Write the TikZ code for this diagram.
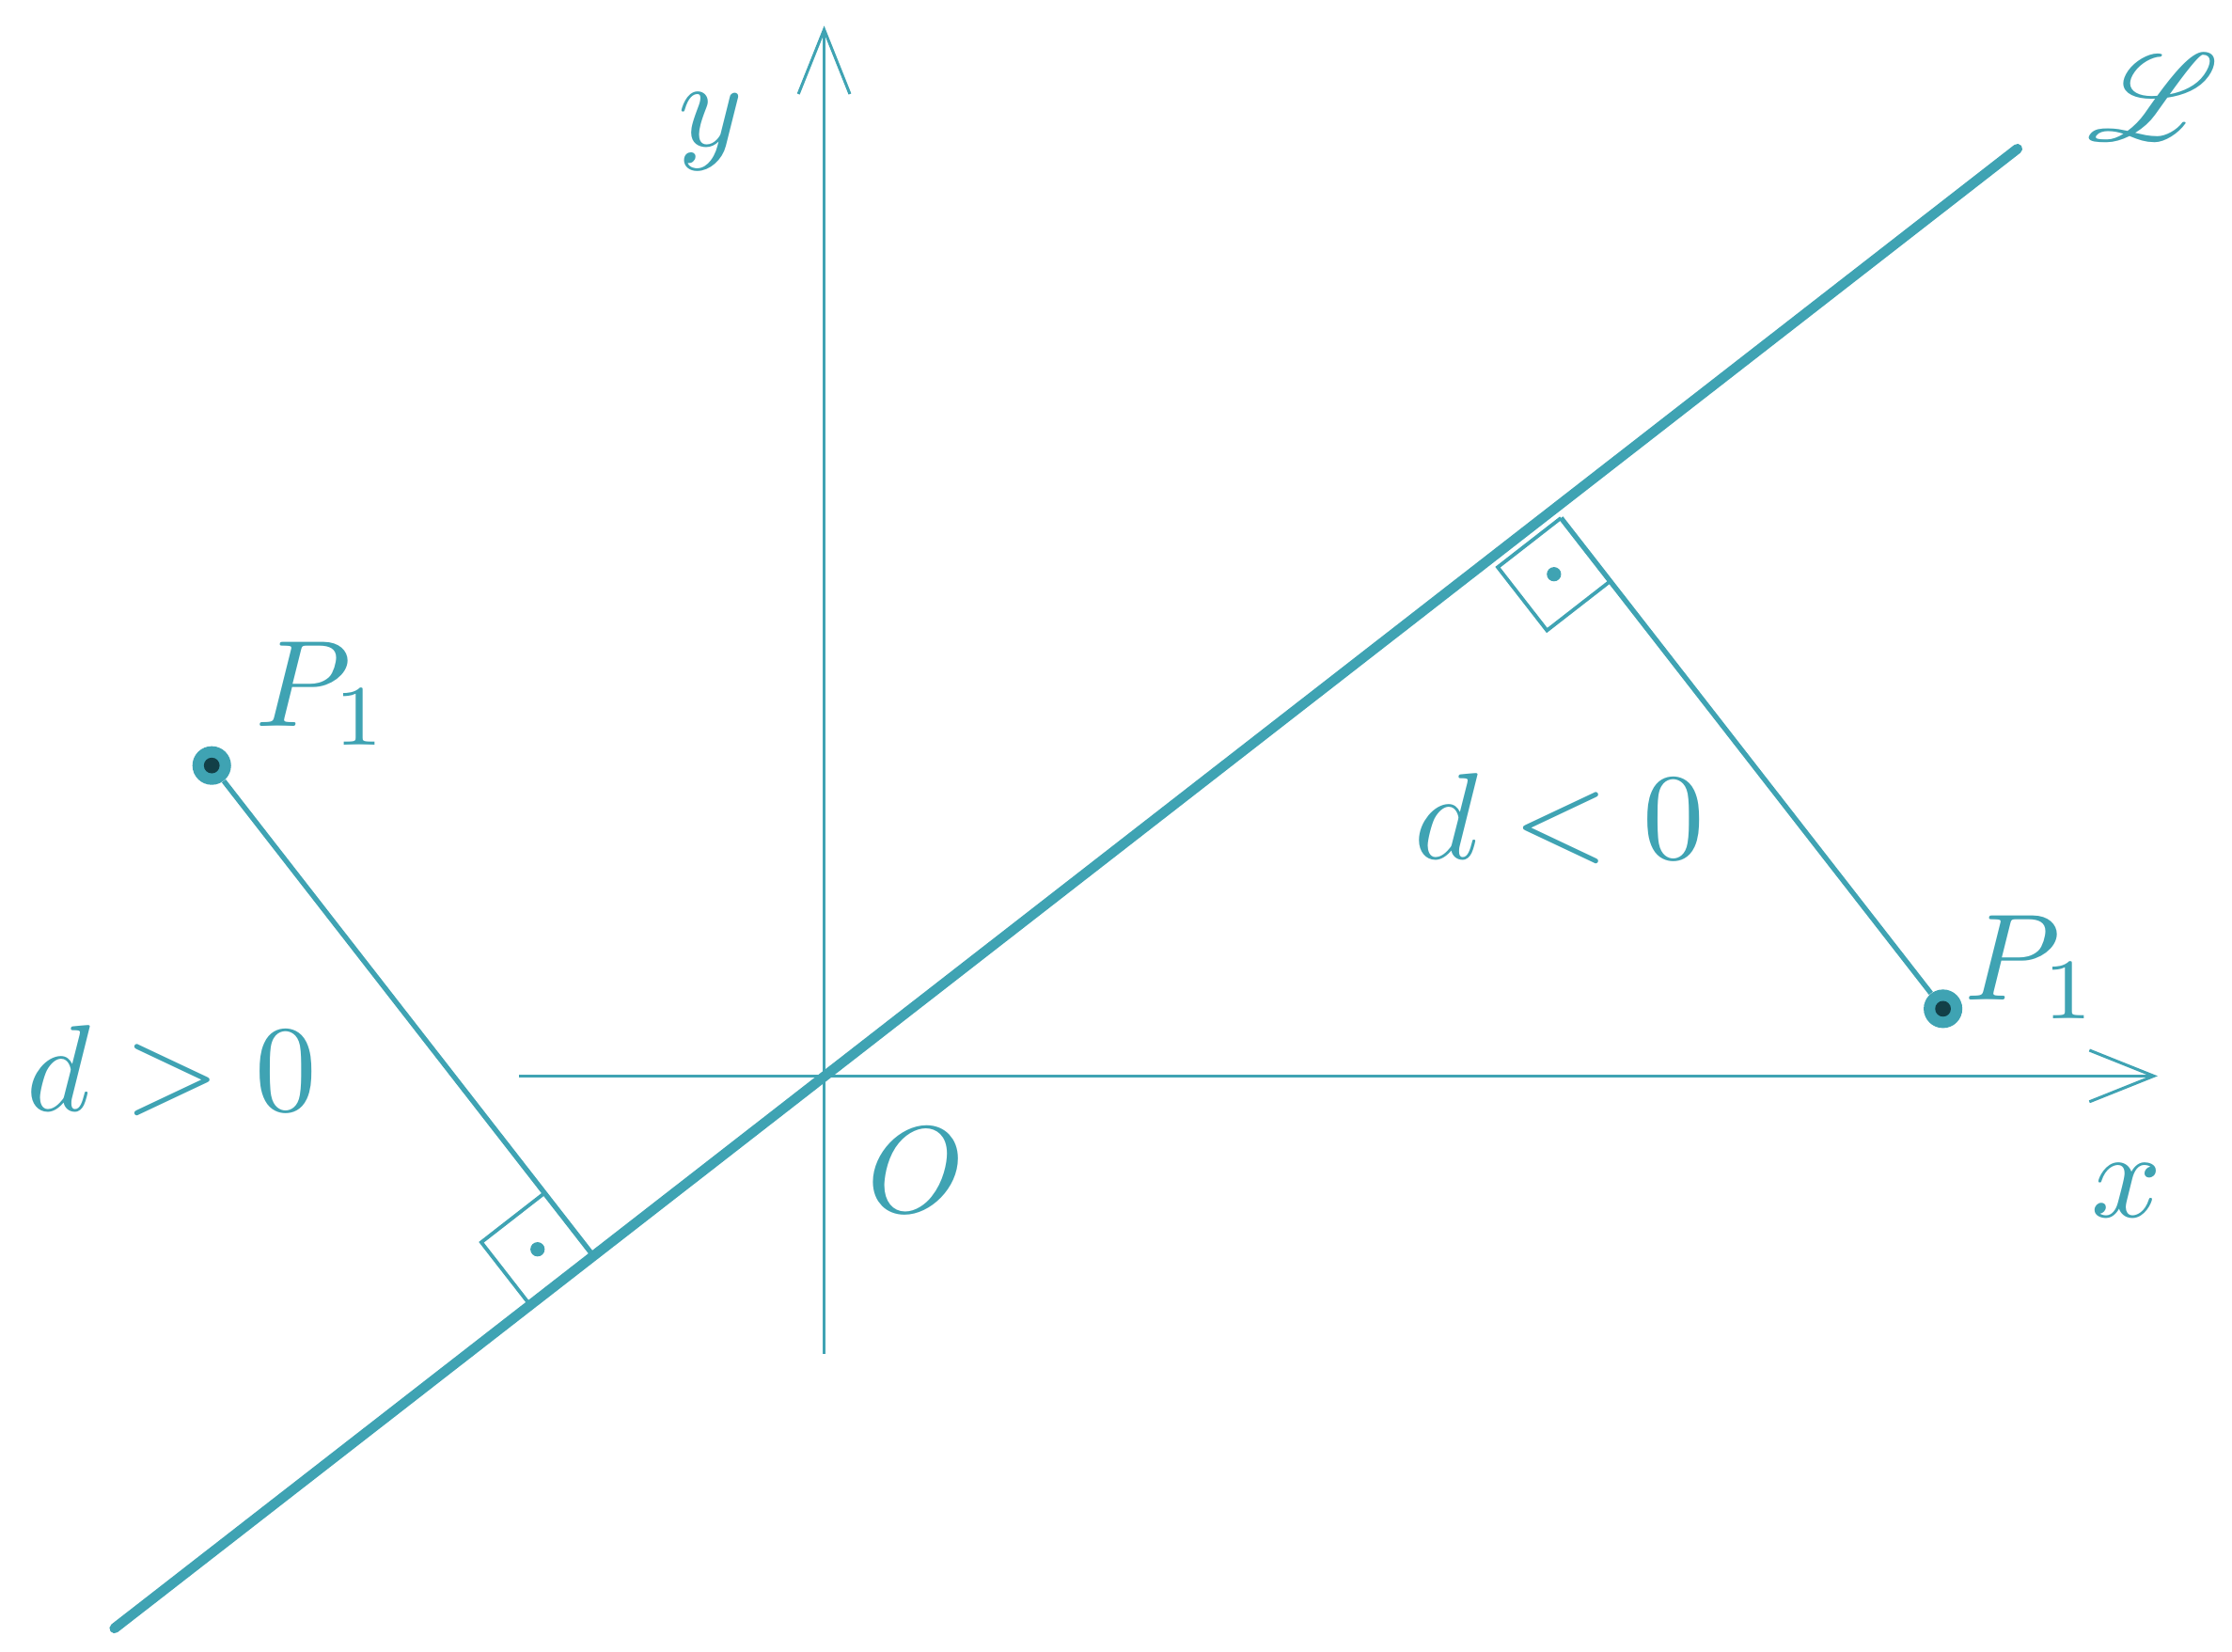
\documentclass[tikz,border=0pt]{standalone}
\usepackage{amsmath}
\usepackage{mathrsfs}
\usetikzlibrary{calc,arrows.meta}
\definecolor{tl}{HTML}{3FA3B3}
\definecolor{dk}{HTML}{123F47}
\begin{document}
\begin{tikzpicture}[x=1pt,y=1pt,
  axis/.style={tl,line width=2,-{Straight Barb[length=45,width=36,line width=2]}},
  perp/.style={tl,line width=3.5},
  lbl/.style={tl,scale=8.6,inner sep=0},
  ptdot/.style={circle,fill=tl,minimum size=27,inner sep=0}]
\useasboundingbox (0,0) rectangle (1560,-1154);
\coordinate (xs) at (363,-752); \coordinate (xe) at (1508,-752);
\coordinate (ys) at (576,-946); \coordinate (ye) at (576,-18);
\draw[axis] (xs) -- (xe);
\draw[axis] (ys) -- (ye);
\coordinate (La) at (80,-1138); \coordinate (Lb) at (1410,-104);
\draw[tl,line width=7,line cap=round] (La) -- (Lb);
\node[ptdot] (P) at (148,-535) {};
\node[ptdot] (Q) at (1358,-705) {};
\fill[dk] (P) circle (5.5); \fill[dk] (Q) circle (5.5);
\coordinate (F1) at (415,-878); \coordinate (F2) at (1091,-362);
\draw[perp] (P) -- (F1);
\draw[perp] (Q) -- (F2);
\def\ux{44.2}\def\uy{34.4}\def\nx{-34.4}\def\ny{44.2}
\draw[tl,line width=2.5] (F1) -- ++(-\ux,-\uy) -- ++(\nx,\ny) -- ++(\ux,\uy);
\fill[tl] ($(F1)+(-\ux/2,-\uy/2)+(\nx/2,\ny/2)$) circle (5);
\draw[tl,line width=2.5] (F2) -- ++(-\ux,-\uy) -- ++(-\nx,-\ny) -- ++(\ux,\uy);
\fill[tl] ($(F2)+(-\ux/2,-\uy/2)+(-\nx/2,-\ny/2)$) circle (5);
\node[lbl] (ly) at (497,-92) {$y$};
\node[lbl] (lx) at (1486,-832) {$x$};
\node[lbl] (lO) at (640,-818) {$O$};
\node[lbl] (lL) at (1505,-68) {$\mathscr{L}$};
\node[lbl] (lp1) at (225,-485) {$P_1$};
\node[lbl] (lp2) at (1420,-676) {$P_1$};
\node[lbl] (d1) at (120,-748) {$d>0$};
\node[lbl] (d2) at (1090,-572) {$d<0$};
\end{tikzpicture}
\end{document}
